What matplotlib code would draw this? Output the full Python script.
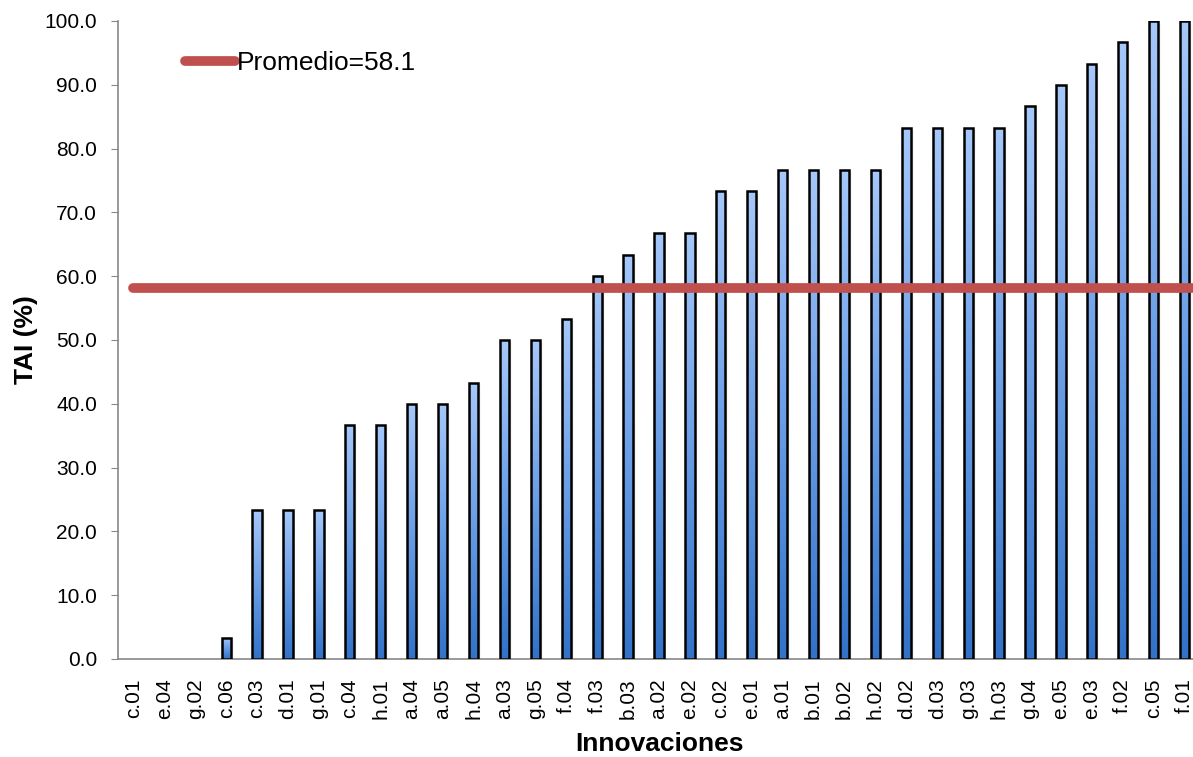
import numpy as np
import matplotlib
matplotlib.use("Agg")
import matplotlib.pyplot as plt
from matplotlib.colors import LinearSegmentedColormap
from matplotlib.patches import Rectangle

plt.rcParams['font.family'] = ['Liberation Sans', 'DejaVu Sans']

categories = ["c.01", "e.04", "g.02", "c.06", "c.03", "d.01", "g.01", "c.04", "h.01",
              "a.04", "a.05", "h.04", "a.03", "g.05", "f.04", "f.03", "b.03", "a.02",
              "e.02", "c.02", "e.01", "a.01", "b.01", "b.02", "h.02", "d.02", "d.03",
              "g.03", "h.03", "g.04", "e.05", "e.03", "f.02", "c.05", "f.01"]
tai = [0.0, 0.0, 0.0, 3.3, 23.3, 23.3, 23.3, 36.7, 36.7,
       40.0, 40.0, 43.3, 50.0, 50.0, 53.3, 60.0, 63.3, 66.7,
       66.7, 73.3, 73.3, 76.7, 76.7, 76.7, 76.7, 83.3, 83.3,
       83.3, 83.3, 86.7, 90.0, 93.3, 96.7, 100.0, 100.0]
promedio = 58.1

fig = plt.figure(figsize=(11.93, 7.57), dpi=100)
ax = fig.add_axes([0.0989, 0.1295, 0.907, 0.8428])

x = np.arange(len(categories))
width = 0.3
grad = LinearSegmentedColormap.from_list("bluegrad", ["#3272c8", "#6a9ee6", "#a6c8fa"])
gradient = np.linspace(0, 1, 256).reshape(-1, 1)

bars = ax.bar(x, tai, width=width, color="none", edgecolor="black", linewidth=1.8, zorder=3)
for b in bars:
    h = b.get_height()
    if h <= 0:
        b.set_linewidth(0)
        continue
    bx = b.get_x()
    # soft shadow to the right of each bar
    for off, a in [(0.03, 0.10), (0.06, 0.06), (0.09, 0.03)]:
        ax.add_patch(Rectangle((bx + off, 0), width, h - 0.4, facecolor="#000000", alpha=a,
                               edgecolor="none", zorder=1))
    im = ax.imshow(gradient, cmap=grad, aspect="auto", origin="lower",
                   extent=(bx, bx + width, 0, h), zorder=2)
    im.set_clip_path(b)

ax.plot([x[0], x[-1] + 0.3], [promedio, promedio], color="#c0504d", linewidth=7,
        solid_capstyle="round", zorder=4, label=f"Promedio={promedio}")

ax.set_xlim(-0.5, len(categories) - 0.5)
ax.set_ylim(0, 100)
ax.set_yticks(np.arange(0, 101, 10))
ax.set_yticklabels([f"{v:.1f}" for v in np.arange(0, 101, 10)], fontsize=15)
ax.set_xticks(x)
ax.set_xticklabels(categories, rotation=90, fontsize=15)
ax.tick_params(axis="x", length=0, pad=14)
ax.tick_params(axis="y", length=5, color="#888888", direction="out", pad=10)

for s in ["top", "right"]:
    ax.spines[s].set_visible(False)
for s in ["left", "bottom"]:
    ax.spines[s].set_color("#888888")
    ax.spines[s].set_linewidth(1.2)

ax.set_ylabel("TAI (%)", fontsize=19, fontweight="bold", labelpad=5)
ax.set_xlabel("Innovaciones", fontsize=19, fontweight="bold", labelpad=9)

leg = ax.legend(loc="upper left", bbox_to_anchor=(0.04, 0.99), frameon=False,
                fontsize=19, handlelength=1.9, handletextpad=0.05)

fig.savefig("out.png", dpi=100)
